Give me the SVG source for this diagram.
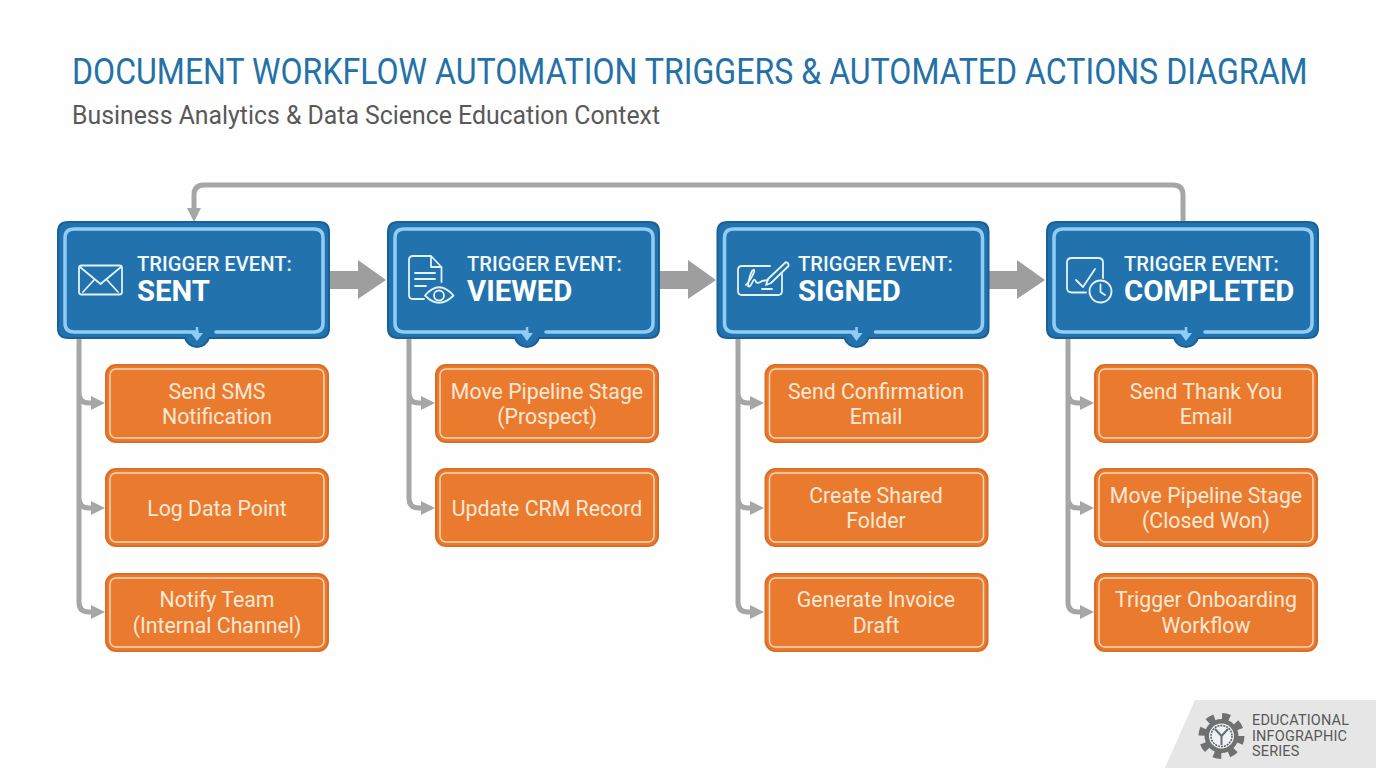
<svg xmlns="http://www.w3.org/2000/svg" width="1376" height="768" viewBox="0 0 1376 768">
<style>
text{font-family:Roboto,"Liberation Sans",sans-serif}
.title{font-size:37px;fill:#2471a8}
.sub{font-size:25px;fill:#595959}
.tl{font-size:20.200px;font-weight:500;fill:#f2f8fc}
.tn{font-size:29.300px;font-weight:700;fill:#fff}
.ac{font-size:21.300px;fill:#fde8d6;text-anchor:middle}
.ft{font-size:14.500px;letter-spacing:.15px;fill:#585858}
.box{fill:#2272ae;stroke:#17609a;stroke-width:2}
.inner{fill:none;stroke:#90cdf6;stroke-width:3.500;stroke-linecap:round;stroke-linejoin:round}
.ob{fill:#ea7b2e;stroke:#db6e24;stroke-width:2}
.oi{fill:none;stroke:#f9d6ba;stroke-width:1.500}
.ln{fill:none;stroke:#a6a6a6;stroke-width:5;stroke-linejoin:round}
.ic{fill:none;stroke:#e3f2fc;stroke-width:1.800;stroke-linecap:round;stroke-linejoin:round}
.ah{fill:#a6a6a6}
.bg{fill:#9e9e9e}
</style>
<defs>
<g id="hd">
<path class="box" d="M10 0H261Q271 0 271 10V106Q271 116 261 116H151A12.500 12.500 0 0 1 127 116H10Q0 116 0 106V10Q0 0 10 0Z"/>
<path class="inner" d="M158 110H256Q265 110 265 101V16Q265 7 256 7H16Q7 7 7 16V101Q7 110 16 110H139"/>
<path d="M139 105V114" stroke="#90cdf6" stroke-width="2.500" fill="none"/>
<path d="M133 111H145L139 119Z" fill="#90cdf6"/>
</g>
<g id="tip"><path class="ah" d="M0-7L14 0L0 7Z"/></g>
<g id="big"><path class="bg" d="M0-9H28V-20L56 0L28 19V9H0Z"/></g>
<g id="act">
<rect class="ob" width="222" height="77" rx="10"/>
<rect class="oi" x="4" y="4" width="214" height="69" rx="6"/>
</g>
</defs>
<rect width="1376" height="768" fill="#fefefe"/>
<text class="title" transform="translate(72 84) scale(.868 1)">DOCUMENT WORKFLOW AUTOMATION TRIGGERS &amp; AUTOMATED ACTIONS DIAGRAM</text>
<text class="sub" x="72" y="124" textLength="588" lengthAdjust="spacingAndGlyphs">Business Analytics &amp; Data Science Education Context</text>

<g id="connectors">
<path class="ln" d="M1183 222V195Q1183 185 1173 185H204Q194 185 194 195V209"/>
<use href="#tip" transform="translate(194 208) rotate(90)"/>
<use href="#big" transform="translate(330 280)"/>
<use href="#big" transform="translate(660 280)"/>
<use href="#big" transform="translate(989 280)"/>
<path class="ln" d="M79 338V602Q79 612 89 612H93M79 393Q79 403 89 403H93M79 498Q79 508 89 508H93"/>
<use href="#tip" transform="translate(91 403)"/><use href="#tip" transform="translate(91 508)"/><use href="#tip" transform="translate(91 612)"/>
<path class="ln" d="M409 338V498Q409 508 419 508H423M409 393Q409 403 419 403H423"/>
<use href="#tip" transform="translate(421 403)"/><use href="#tip" transform="translate(421 508)"/>
<path class="ln" d="M738 338V602Q738 612 748 612H752M738 393Q738 403 748 403H752M738 498Q738 508 748 508H752"/>
<use href="#tip" transform="translate(750 403)"/><use href="#tip" transform="translate(750 508)"/><use href="#tip" transform="translate(750 612)"/>
<path class="ln" d="M1068 338V602Q1068 612 1078 612H1082M1068 393Q1068 403 1078 403H1082M1068 498Q1068 508 1078 508H1082"/>
<use href="#tip" transform="translate(1080 403)"/><use href="#tip" transform="translate(1080 508)"/><use href="#tip" transform="translate(1080 612)"/>
</g>

<g id="sent">
<use href="#hd" transform="translate(58 222)"/>
<rect class="ic" x="79" y="265.500" width="43" height="29" rx="2.500" stroke-width="1.500"/>
<path class="ic" d="M80 267L100.500 284L121 267M83 292L94 280M118 292L107 280"/>
<text class="tl" x="137" y="271">TRIGGER EVENT:</text>
<text class="tn" x="137" y="301">SENT</text>
</g>
<g id="viewed">
<use href="#hd" transform="translate(388 222)"/>
<path class="ic" d="M424 299H413Q409 299 409 295V260Q409 256 413 256H431L441.500 267V282M431 256V267H441.500M415 273H435M415 279H435M415 286H426"/>
<path class="ic" d="M425 295.500Q439 279 453.500 295.500Q439 310 425 295.500Z"/>
<circle class="ic" cx="439" cy="295.500" r="5"/>
<text class="tl" x="467" y="271">TRIGGER EVENT:</text>
<text class="tn" x="467" y="301">VIEWED</text>
</g>
<g id="signed">
<use href="#hd" transform="translate(717.500 222)"/>
<path class="ic" d="M770 266H742Q738 266 738 270V291Q738 295 742 295H778Q782 295 782 291V274"/>
<path class="ic" d="M746 285Q752 278 754 272Q755 268 752 271Q749 277 748 286Q750 288 753 281Q755 278 756 282Q758 284 762 281L768 280M762 289H772"/>
<path class="ic" d="M768 279L786 262Q789 263 788.500 266L771 283L766 285Z"/>
<text class="tl" x="798" y="271">TRIGGER EVENT:</text>
<text class="tn" x="798" y="301">SIGNED</text>
</g>
<g id="completed">
<use href="#hd" transform="translate(1047 222)"/>
<path class="ic" d="M1086 292.500H1072Q1067 292.500 1067 288V262.500Q1067 258 1072 258H1098Q1103 258 1103 262.500V278"/>
<path class="ic" d="M1076 280L1083 287L1095 269"/>
<circle class="ic" cx="1100.500" cy="291.500" r="11"/>
<path class="ic" d="M1100.500 284.500V292L1105 295"/>
<text class="tl" x="1124" y="271">TRIGGER EVENT:</text>
<text class="tn" x="1124" y="301">COMPLETED</text>
</g>

<g id="a1"><use href="#act" transform="translate(106 365)"/><text class="ac" x="217" y="398.500">Send SMS</text><text class="ac" x="217" y="424">Notification</text></g>
<g id="a2"><use href="#act" transform="translate(106 469)"/><text class="ac" x="217" y="515.500">Log Data Point</text></g>
<g id="a3"><use href="#act" transform="translate(106 574)"/><text class="ac" x="217" y="607">Notify Team</text><text class="ac" x="217" y="633">(Internal Channel)</text></g>
<g id="b1"><use href="#act" transform="translate(436 365)"/><text class="ac" x="547" y="398.500">Move Pipeline Stage</text><text class="ac" x="547" y="424">(Prospect)</text></g>
<g id="b2"><use href="#act" transform="translate(436 469)"/><text class="ac" x="547" y="515.500">Update CRM Record</text></g>
<g id="c1"><use href="#act" transform="translate(765.500 365)"/><text class="ac" x="876" y="398.500">Send Confirmation</text><text class="ac" x="876" y="424">Email</text></g>
<g id="c2"><use href="#act" transform="translate(765.500 469)"/><text class="ac" x="876" y="503">Create Shared</text><text class="ac" x="876" y="528">Folder</text></g>
<g id="c3"><use href="#act" transform="translate(765.500 574)"/><text class="ac" x="876" y="607">Generate Invoice</text><text class="ac" x="876" y="633">Draft</text></g>
<g id="d1"><use href="#act" transform="translate(1095 365)"/><text class="ac" x="1206" y="398.500">Send Thank You</text><text class="ac" x="1206" y="424">Email</text></g>
<g id="d2"><use href="#act" transform="translate(1095 469)"/><text class="ac" x="1206" y="503">Move Pipeline Stage</text><text class="ac" x="1206" y="528">(Closed Won)</text></g>
<g id="d3"><use href="#act" transform="translate(1095 574)"/><text class="ac" x="1206" y="607">Trigger Onboarding</text><text class="ac" x="1206" y="633">Workflow</text></g>

<g id="badge">
<path d="M1195 700H1376V768H1165Z" fill="#e6e6e6"/>
<circle cx="1221.500" cy="736" r="19" fill="none" stroke="#707070" stroke-width="8" stroke-dasharray="7.460 7.460"/>
<circle cx="1221.500" cy="736" r="17" fill="#707070"/>
<circle cx="1221.500" cy="736" r="12.500" fill="#f2f2f2"/>
<circle cx="1221.500" cy="736" r="10.500" fill="none" stroke="#4d6272" stroke-width="1.500" stroke-dasharray="2 1"/>
<path d="M1221.500 745V736L1215 729M1221.500 736L1228 729" fill="none" stroke="#5f6f7c" stroke-width="2"/>
<text class="ft" x="1252" y="725">EDUCATIONAL</text>
<text class="ft" x="1252" y="740.500">INFOGRAPHIC</text>
<text class="ft" x="1252" y="756">SERIES</text>
</g>
</svg>
